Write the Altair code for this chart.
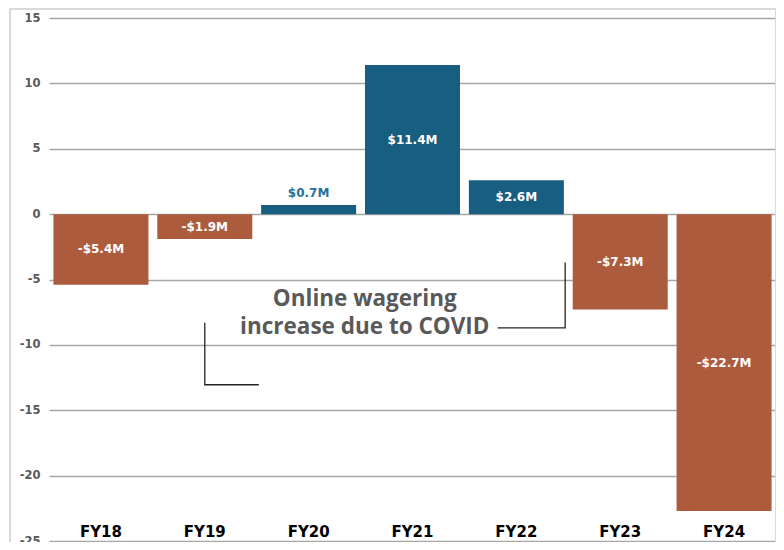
import altair as alt
import pandas as pd

# ---- data ----
years = ["FY18", "FY19", "FY20", "FY21", "FY22", "FY23", "FY24"]
values = [-5.4, -1.9, 0.7, 11.4, 2.6, -7.3, -22.7]
labels = ["-$5.4M", "-$1.9M", "$0.7M", "$11.4M", "$2.6M", "-$7.3M", "-$22.7M"]
y_ticks = [15, 10, 5, 0, -5, -10, -15, -20, -25]
note_lines = ["Online wagering", "increase due to COVID"]
note_x = [3.04, 3.04]
note_y = [-6.5, -8.6]
# annotation connector paths (x on a 0..7 band-aligned scale, y in data units)
conn_x = [1.5, 1.5, 2.02, None, 4.32, 4.97, 4.97]
conn_y = [-8.3, -13.05, -13.05, None, -8.7, -8.7, -3.7]
conn_id = [0, 0, 0, None, 1, 1, 1]

BLUE = "#175e80"
ORANGE = "#ad5b3d"

df = pd.DataFrame({"year": years, "value": values, "label": labels})
df["sign"] = ["pos" if v >= 0 else "neg" for v in values]
df["inside"] = [abs(v) >= 1 for v in values]
df["mid"] = [v / 2 for v in values]

xscale = alt.Scale(domain=years, paddingInner=0.09, paddingOuter=0.045)
yscale = alt.Scale(domain=[-25, 15], nice=False)

x_enc = alt.X("year:N", scale=xscale, axis=None, sort=years)

bars = alt.Chart(df).mark_bar(size=95).encode(
    x=x_enc,
    y=alt.Y("value:Q", scale=yscale, title=None,
            axis=alt.Axis(values=y_ticks, grid=True, gridColor="#a6a6a6", gridWidth=1.6,
                          domain=False, ticks=False, labelColor="#595959",
                          labelFont="DejaVu Sans", labelFontSize=11.5, labelFontWeight="bold",
                          labelPadding=9,
                          labelExpr="replace(datum.label, '\u2212', '-')")),
    y2=alt.datum(0),
    color=alt.Color("sign:N", scale=alt.Scale(domain=["pos", "neg"], range=[BLUE, ORANGE]), legend=None),
)

inside_labels = alt.Chart(df).transform_filter("datum.inside").mark_text(
    font="DejaVu Sans", fontWeight="bold", fontSize=12, color="white", baseline="middle"
).encode(x=x_enc, y=alt.Y("mid:Q", scale=yscale), text="label:N")

outside_labels = alt.Chart(df).transform_filter("!datum.inside").mark_text(
    font="DejaVu Sans", fontWeight="bold", fontSize=12, color="#2a7099", baseline="bottom", dy=-5
).encode(x=x_enc, y=alt.Y("value:Q", scale=yscale), text="label:N")

year_labels = alt.Chart(df).mark_text(
    font="DejaVu Sans", fontWeight="bold", fontSize=15, color="black", baseline="bottom", dy=-1
).encode(x=x_enc, y=alt.datum(-25), text="year:N")

border = alt.Chart(df).mark_rect(fill=None, stroke="#d9d9d9", strokeWidth=1.2).encode(
    x=alt.value(-39), x2=alt.value(727), y=alt.value(-9), y2=alt.value(560)
)

qx = alt.Scale(domain=[0, 7], nice=False, zero=False)
note_df = pd.DataFrame({"t": note_lines, "x": note_x, "y": note_y})
note = alt.Chart(note_df).mark_text(
    font="Open Sans", fontWeight="bold", fontSize=22.5, color="#595959", baseline="middle"
).encode(x=alt.X("x:Q", scale=qx, axis=None), y=alt.Y("y:Q", scale=yscale), text="t:N")

conn_df = pd.DataFrame({"x": conn_x, "y": conn_y, "g": conn_id, "o": list(range(len(conn_x)))}).dropna()
conn = alt.Chart(conn_df).mark_line(color="#222222", strokeWidth=1.3).encode(
    x=alt.X("x:Q", scale=qx, axis=None), y=alt.Y("y:Q", scale=yscale),
    detail="g:N", order="o:Q"
)

annot = alt.layer(note, conn)

chart = alt.layer(border, bars, inside_labels, outside_labels, year_labels, annot).resolve_scale(
    x="independent"
).properties(
    width=727, height=523,
    autosize=alt.AutoSizeParams(type="none"),
    padding={"left": 41, "top": 10, "right": 0, "bottom": 1},
).configure_view(stroke=None)

chart.save("out.html", embed_options={"renderer": "svg", "actions": False})
